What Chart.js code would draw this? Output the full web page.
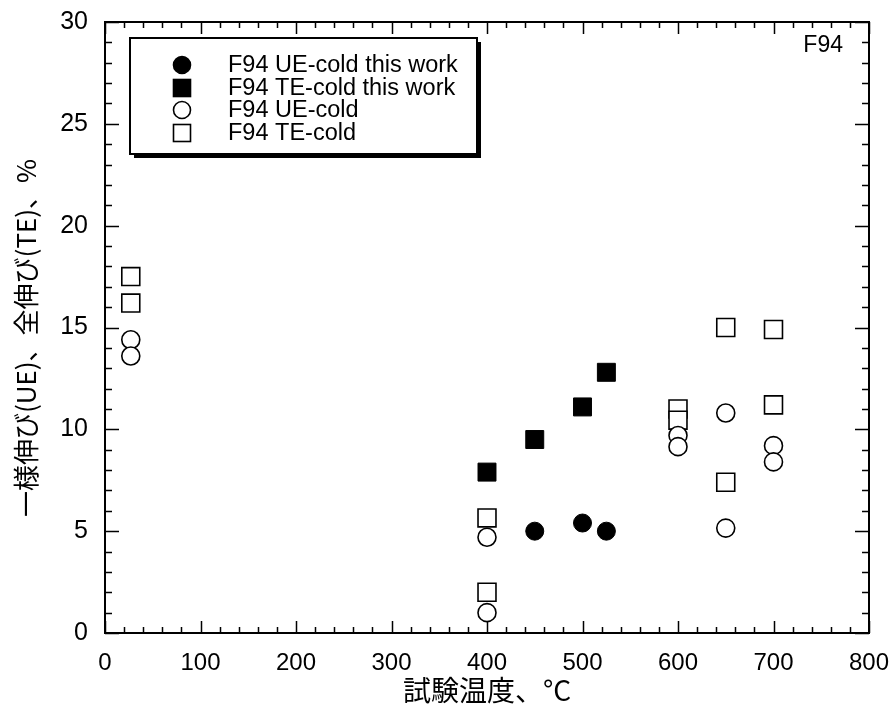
<!DOCTYPE html>
<html><head><meta charset="utf-8">
<script src="https://cdn.jsdelivr.net/npm/chart.js@4/dist/chart.umd.min.js"></script>
<style>html,body{margin:0;padding:0;background:#fff}#wrap{width:894px;height:726px}</style>
</head><body><div id="wrap"><canvas id="c" width="894" height="726"></canvas></div>
<script>
const ueThisX = [450, 500, 525];
const ueThisY = [5.0, 5.4, 5.0];
const teThisX = [400, 450, 500, 525];
const teThisY = [7.9, 9.5, 11.1, 12.8];
const ueColdX = [27, 27, 400, 400, 600, 600, 650, 650, 700, 700];
const ueColdY = [14.4, 13.6, 4.7, 1.0, 9.7, 9.15, 10.8, 5.15, 9.2, 8.4];
const teColdX = [27, 27, 400, 400, 600, 600, 650, 650, 700, 700];
const teColdY = [17.5, 16.2, 5.65, 2.0, 11.0, 10.45, 15.0, 7.4, 14.9, 11.2];
const seriesNames = ['F94 UE-cold this work', 'F94 TE-cold this work', 'F94 UE-cold', 'F94 TE-cold'];
const xTitle = '試験温度、°C';
const yTitle = '一様伸び(UE)、全伸び(TE)、%';
const panelLabel = 'F94';

const pts = (xs, ys) => xs.map((x, i) => ({x, y: ys[i]}));
const styles = [
  {pointStyle: 'circle', pointRadius: 9, backgroundColor: '#000', borderColor: '#000', borderWidth: 1},
  {pointStyle: 'rect', pointRadius: 12.7, backgroundColor: '#000', borderColor: '#000', borderWidth: 1},
  {pointStyle: 'circle', pointRadius: 9, backgroundColor: '#fff', borderColor: '#000', borderWidth: 1.6},
  {pointStyle: 'rect', pointRadius: 12.7, backgroundColor: '#fff', borderColor: '#000', borderWidth: 1.6}
];
const data = [pts(ueThisX, ueThisY), pts(teThisX, teThisY), pts(ueColdX, ueColdY), pts(teColdX, teColdY)];
const datasets = data.map((d, i) => Object.assign({label: seriesNames[i], data: d, showLine: false}, styles[i]));

const frame = {
  id: 'frame',
  beforeDatasetsDraw(chart) {
    const {ctx, chartArea: a, scales: {x, y}} = chart;
    ctx.save();
    ctx.strokeStyle = '#000';
    ctx.lineWidth = 1.5;
    ctx.beginPath();
    for (let v = 0; v <= 800; v += 20) {
      const px = Math.round(x.getPixelForValue(v)) + 0.5;
      const L = v % 100 === 0 ? 12 : 6;
      ctx.moveTo(px, a.bottom); ctx.lineTo(px, a.bottom - L);
      ctx.moveTo(px, a.top); ctx.lineTo(px, a.top + L);
    }
    for (let v = 0; v <= 30; v += 1) {
      const py = Math.round(y.getPixelForValue(v)) + 0.5;
      const L = v % 5 === 0 ? 14 : 7;
      ctx.moveTo(a.left, py); ctx.lineTo(a.left + L, py);
      ctx.moveTo(a.right, py); ctx.lineTo(a.right - L, py);
    }
    ctx.stroke();
    ctx.lineWidth = 2;
    ctx.strokeRect(a.left, a.top, a.right - a.left, a.bottom - a.top);
    // y axis title
    ctx.fillStyle = '#000';
    ctx.font = '26px "Noto Sans CJK JP", sans-serif';
    ctx.textAlign = 'center';
    ctx.textBaseline = 'middle';
    ctx.translate(26, 338);
    ctx.rotate(-Math.PI / 2);
    ctx.fillText(yTitle, 0, 0);
    ctx.restore();
  },
  afterDatasetsDraw(chart) {
    const {ctx} = chart;
    ctx.save();
    ctx.fillStyle = '#000';
    ctx.font = '23px "Liberation Sans", Arial, sans-serif';
    ctx.textAlign = 'right';
    ctx.textBaseline = 'middle';
    ctx.fillText(panelLabel, 843, 46);
    // legend box with shadow
    const bx = 130, by = 38, bw = 347, bh = 116;
    ctx.fillStyle = '#000';
    ctx.fillRect(bx + 4, by + 4, bw, bh);
    ctx.fillStyle = '#fff';
    ctx.fillRect(bx, by, bw, bh);
    ctx.lineWidth = 2;
    ctx.strokeStyle = '#000';
    ctx.strokeRect(bx, by, bw, bh);
    ctx.font = '23.5px "Liberation Sans", Arial, sans-serif';
    ctx.textAlign = 'left';
    const rows = [65, 88, 110, 133];
    rows.forEach((ry, i) => {
      const s = styles[i];
      ctx.fillStyle = s.backgroundColor;
      ctx.lineWidth = 1.6;
      if (s.pointStyle === 'circle') {
        ctx.beginPath(); ctx.arc(182, ry, 8.5, 0, Math.PI * 2); ctx.fill(); ctx.stroke();
      } else {
        ctx.fillRect(173.5, ry - 8.5, 17, 17); ctx.strokeRect(173.5, ry - 8.5, 17, 17);
      }
      ctx.fillStyle = '#000';
      ctx.fillText(seriesNames[i], 228, ry + 1);
    });
    ctx.restore();
  }
};

new Chart(document.getElementById('c'), {
  type: 'scatter',
  data: {datasets},
  options: {
    responsive: false, animation: false, devicePixelRatio: 1,
    layout: {padding: {top: 22, right: 25, left: 0, bottom: 0}},
    plugins: {legend: {display: false}, tooltip: {enabled: false}},
    scales: {
      x: {
        type: 'linear', min: 0, max: 800,
        ticks: {stepSize: 100, color: '#000', padding: 16, maxRotation: 0,
          font: {family: '"Liberation Sans", Arial', size: 24}},
        grid: {display: false, drawTicks: false}, border: {display: false},
        title: {display: true, text: xTitle, color: '#000', padding: {top: 0, bottom: 19},
          font: {family: '"Noto Sans CJK JP", sans-serif', size: 28}},
        afterFit(s) { s.height = 93; s.paddingLeft = 0; s.paddingRight = 0; }
      },
      y: {
        type: 'linear', min: 0, max: 30,
        ticks: {stepSize: 5, color: '#000', padding: 17,
          font: {family: '"Liberation Sans", Arial', size: 25}},
        grid: {display: false, drawTicks: false}, border: {display: false},
        title: {display: false, text: yTitle},
        afterFit(s) { s.width = 105; s.paddingTop = 0; s.paddingBottom = 0; }
      }
    }
  },
  plugins: [frame]
});
</script></body></html>
